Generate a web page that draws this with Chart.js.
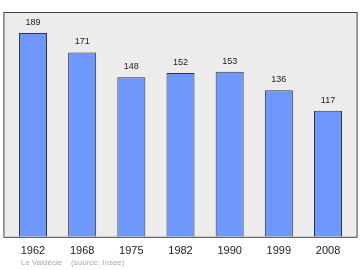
<!DOCTYPE html>
<html><head><meta charset="utf-8">
<script src="https://cdn.jsdelivr.net/npm/chart.js@4"></script>
<style>html,body{margin:0;padding:0;background:#fff}#w{width:360px;height:270px}</style>
</head><body><div id="w"><canvas id="c"></canvas></div>
<script>
const years = ['1962','1968','1975','1982','1990','1999','2008'];
const population = [189,171,148,152,153,136,117];
const footerText = 'Le Valdécie    (source: Insee)';

const boxPlugin = {
  id:'box',
  beforeDatasetsDraw(chart){
    const {ctx, chartArea:a} = chart;
    ctx.save();
    ctx.fillStyle = '#ececec';
    ctx.fillRect(a.left-4.5, a.top, a.right-a.left+9, a.bottom-a.top);
    ctx.strokeStyle = '#444';
    ctx.lineWidth = 1;
    ctx.strokeRect(a.left-4.5, a.top+0.5, a.right-a.left+9, a.bottom-a.top);
    ctx.restore();
  },
  afterDatasetsDraw(chart){
    const {ctx} = chart;
    const meta = chart.getDatasetMeta(0);
    ctx.save();
    ctx.font = '9px "Liberation Sans", Arial, sans-serif';
    ctx.fillStyle = '#222';
    ctx.textAlign = 'center';
    ctx.textBaseline = 'middle';
    meta.data.forEach((b,i)=>{
      ctx.fillText(String(population[i]), b.x, b.y - 10.5);
    });
    ctx.font = '8px "Liberation Sans", Arial, sans-serif';
    ctx.fillStyle = '#aaa';
    ctx.textAlign = 'left';
    ctx.fillText(footerText, 21, 263);
    ctx.restore();
  }
};

new Chart(document.getElementById('c'), {
  type:'bar',
  data:{labels:years, datasets:[{data:population, backgroundColor:'#6f98fd', borderColor:'#333', borderWidth:1, borderSkipped:'bottom', barPercentage:0.57, categoryPercentage:1}]},
  options:{
    responsive:true, maintainAspectRatio:false, animation:false,
    layout:{padding:{left:8.4, right:7.4, top:12, bottom:12}},
    plugins:{legend:{display:false}, tooltip:{enabled:false}},
    scales:{
      y:{display:false, min:0, max:208.5},
      x:{grid:{display:false}, border:{display:false}, ticks:{color:'#222', font:{family:'"Liberation Sans", Arial, sans-serif', size:11}, padding:0, maxRotation:0}}
    }
  },
  plugins:[boxPlugin]
});
</script></body></html>
